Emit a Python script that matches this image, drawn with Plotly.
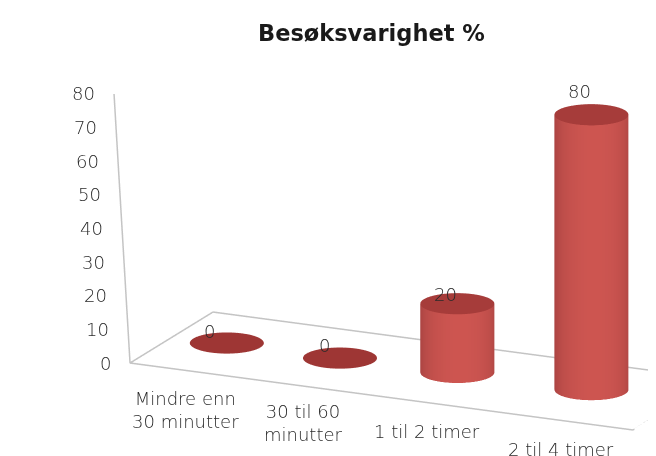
import numpy as np
import plotly.graph_objects as go

categories = ["Mindre enn<br>30 minutter", "30 til 60<br>minutter", "1 til 2 timer", "2 til 4 timer"]
values = [0, 0, 20, 80]
bar_x = [.42, 1.32, 2.24, 3.30]
bar_y = [.53, .53, .55, .56]
tick_values = [0, 10, 20, 30, 40, 50, 60, 70, 80]
W, H = 648, 448
X_RANGE = [-.05, 4]
Y_RANGE = [-.14, 1]
Z_RANGE = [0, 80]

# pixels of the floor corner and of one data unit along each axis in the wanted view
O = np.array([122., 355.]); VX = np.array([125.75, 16.75]); VY = np.array([83., -51.]); VZ = np.array([0., -275. / 80])
ex, ey, se = .4221, -.9065, .286
ce = np.sqrt(1 - se**2)
D = 2.0
S0 = 224.0           # px per model unit of the orthographic view at this distance
mid = O + VX * sum(X_RANGE) / 2 + VY * sum(Y_RANGE) / 2 + VZ * sum(Z_RANGE) / 2
SHIFT_X, SHIFT_Y = (W / 2 - mid[0]) / S0, (mid[1] - H / 2) / S0
e = np.array([ce * ex, ce * ey, se])
r = np.array([-ey, ex, 0.0])
u = np.array([-se * ex, -se * ey, ce])
c = SHIFT_X * r + SHIFT_Y * u
eye = c + D * e
AX = 138.7 * (X_RANGE[1] - X_RANGE[0]) / S0
AY = 196.6 * (Y_RANGE[1] - Y_RANGE[0]) / S0
AZ = 287 / S0
RX, RY = .267, .188

fig = go.Figure()
theta = np.linspace(0, 2 * np.pi, 73)
tv = np.arctan2(ey, ex) + .1
def shade(t):
    k = max(np.cos(t - tv), 0)
    a = np.array([170, 68, 66]); b = np.array([206, 86, 81])
    return "rgb(%d,%d,%d)" % tuple(a + (b - a) * k)
for i, val in enumerate(values):
    cx, cy = bar_x[i], bar_y[i]
    cap = "rgb(166,60,58)" if val > 0 else "rgb(158,54,52)"
    X, Y, Z = [cx], [cy], [val]; col = [cap]; I, J, K = [], [], []
    n = len(theta)
    for t in theta:
        X.append(cx + RX * np.cos(t)); Y.append(cy + RY * np.sin(t)); Z.append(val); col.append(cap)
    for k in range(n - 1):
        I.append(0); J.append(k + 1); K.append(k + 2)
    if val > 0:
        base = len(X)
        for t in theta:
            X += [cx + RX * np.cos(t)] * 2; Y += [cy + RY * np.sin(t)] * 2; Z += [0, val]; col += [shade(t)] * 2
        for k in range(n - 1):
            a = base + 2 * k
            I += [a, a + 1]; J += [a + 1, a + 3]; K += [a + 2, a + 2]
    fig.add_trace(go.Mesh3d(x=X, y=Y, z=Z, i=I, j=J, k=K, vertexcolor=col, flatshading=False,
        lighting=dict(ambient=1, diffuse=0, specular=0, roughness=1, fresnel=0), hoverinfo="skip", showscale=False))
LC = "#c4c4c4"
n_cat = len(categories)
TILT_X, TILT_Y = -.0408, -.131
zmax = max(tick_values)
fig.add_trace(go.Scatter3d(x=[0, n_cat, n_cat, 0, 0, TILT_X], y=[0, 0, 1, 1, 0, TILT_Y], z=[0, 0, 0, 0, 0, zmax], mode="lines",
    line=dict(color=LC, width=3), hoverinfo="skip"))
FT = dict(family="DejaVu Sans", size=18, color="#2a2a2a", weight=200)
ann = []
for t in tick_values:
    ann.append(dict(x=TILT_X * t / zmax, y=TILT_Y * t / zmax, z=t, text=str(t), showarrow=False, xanchor="right", xshift=-17, font=FT))
shifts = [(3, -40), (8, -38), (15, -31), (16, -31)]
for i, c_ in enumerate(categories):
    ann.append(dict(x=bar_x[i], y=0, z=0, text=c_, showarrow=False, xshift=shifts[i][0], yshift=shifts[i][1], font=FT))
lab = [(-17, 12), (-15, 13), (-12, 9), (-12, 23)]
for i, val in enumerate(values):
    ann.append(dict(x=bar_x[i], y=bar_y[i], z=val, text=str(val), showarrow=False, xshift=lab[i][0], yshift=lab[i][1], font=FT))
fig.update_layout(width=W, height=H, margin=dict(l=0, r=0, t=0, b=0), paper_bgcolor="white", showlegend=False,
    scene=dict(domain=dict(x=[0, 1], y=[0, 1]), aspectmode="manual", aspectratio=dict(x=AX, y=AY, z=AZ),
        xaxis=dict(visible=False, range=X_RANGE), yaxis=dict(visible=False, range=Y_RANGE), zaxis=dict(visible=False, range=Z_RANGE),
        camera=dict(eye=dict(x=eye[0], y=eye[1], z=eye[2]), center=dict(x=c[0], y=c[1], z=c[2]), up=dict(x=0, y=0, z=1), projection=dict(type="orthographic")),
        annotations=ann),
    annotations=[dict(text="<b>Besøksvarighet %</b>", x=363 / W, y=1 - 25 / H, yanchor="middle", xref="paper", yref="paper", showarrow=False,
        font=dict(family="DejaVu Sans", size=22.5, color="#1a1a1a"))])
fig.write_html("out.html")
